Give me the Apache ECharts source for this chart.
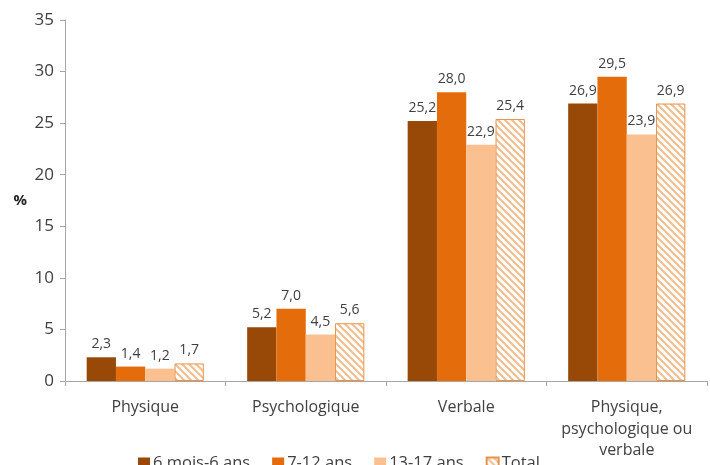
<!DOCTYPE html>
<html>
<head>
<meta charset="utf-8">
<script src="https://cdn.jsdelivr.net/npm/echarts@6/dist/echarts.min.js"></script>
<style>
  html, body { margin: 0; padding: 0; background: #fff; }
  #chart { width: 710px; height: 465px; }
</style>
</head>
<body>
<div id="chart"></div>
<script>
// Types of violence by age group (%)
const categories = ['Physique', 'Psychologique', 'Verbale', 'Physique,\npsychologique ou\nverbale'];
const seriesNames = ['6 mois-6 ans', '7-12 ans', '13-17 ans', 'Total'];
const age6m6 = [2.3, 5.2, 25.2, 26.9];
const age7to12 = [1.4, 7.0, 28.0, 29.5];
const age13to17 = [1.2, 4.5, 22.9, 23.9];
const total = [1.7, 5.6, 25.4, 26.9];
const yTicks = [0, 5, 10, 15, 20, 25, 30, 35];

const FONT = '"Open Sans", "DejaVu Sans", sans-serif';

// Diagonal hatch fill for the "Total" bars
function hatchPattern() {
  const s = 7;
  const c = document.createElement('canvas');
  c.width = s; c.height = s;
  const g = c.getContext('2d');
  g.fillStyle = '#ffffff';
  g.fillRect(0, 0, s, s);
  g.strokeStyle = '#f3bd8e';
  g.lineWidth = 2;
  g.beginPath();
  g.moveTo(-1, -1); g.lineTo(s + 1, s + 1);
  g.moveTo(-1, s - 1); g.lineTo(1, s + 1);
  g.moveTo(s - 1, -1); g.lineTo(s + 1, 1);
  g.stroke();
  return { image: c, repeat: 'repeat' };
}

const fmt = p => p.value.toFixed(1).replace('.', ',');
const labelCfg = {
  show: true, position: 'top', distance: 6,
  color: '#404040', fontSize: 14, fontFamily: FONT, formatter: fmt
};

const colors = ['#984807', '#e46c0a', '#fac090'];
const values = [age6m6, age7to12, age13to17, total];

const series = values.map((vals, i) => ({
  name: seriesNames[i],
  type: 'bar',
  data: vals,
  barGap: '0%',
  barCategoryGap: '27%',
  label: labelCfg,
  itemStyle: i < 3
    ? { color: colors[i] }
    : { color: hatchPattern(), borderColor: '#e8934a', borderWidth: 1 }
}));

const chart = echarts.init(document.getElementById('chart'), null, { renderer: 'canvas' });
chart.setOption({
  animation: false,
  backgroundColor: '#ffffff',
  grid: { left: 65, right: 3, top: 20, bottom: 84, containLabel: false },
  legend: {
    data: seriesNames,
    left: 133, top: 450,
    itemWidth: 12, itemHeight: 12, itemGap: 22,
    icon: 'rect',
    textStyle: { color: '#404040', fontSize: 16.5, fontFamily: FONT, padding: [0, 0, 0, -2] }
  },
  xAxis: {
    type: 'category',
    data: categories,
    axisLine: { lineStyle: { color: '#a6a6a6' } },
    axisTick: { show: true, length: 5, lineStyle: { color: '#a6a6a6' } },
    axisLabel: { color: '#404040', fontSize: 16, fontFamily: FONT, margin: 16, lineHeight: 21.5, interval: 0 }
  },
  yAxis: {
    type: 'value',
    min: yTicks[0], max: yTicks[yTicks.length - 1], interval: 5,
    name: '%',
    nameLocation: 'middle',
    nameRotate: 0,
    nameGap: 38,
    nameTextStyle: { color: '#262626', fontSize: 15, fontWeight: 'bold', fontFamily: FONT, padding: [16, 0, 0, 0] },
    axisLine: { show: true, lineStyle: { color: '#a6a6a6' } },
    axisTick: { show: true, length: 5, lineStyle: { color: '#a6a6a6' } },
    splitLine: { show: false },
    axisLabel: { color: '#404040', fontSize: 17, fontFamily: FONT, margin: 11 }
  },
  series: series
});
</script>
</body>
</html>
